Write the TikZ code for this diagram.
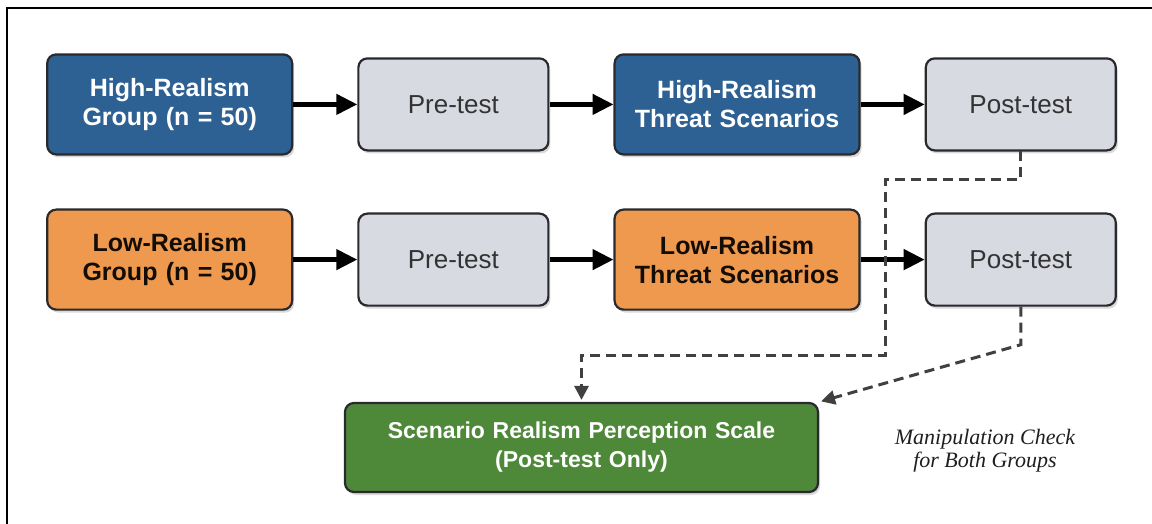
\documentclass[tikz,border=0pt]{standalone}
\usepackage{fontspec}
\setmainfont{Liberation Sans}
\newfontfamily\notefont{Liberation Serif}
\usetikzlibrary{matrix,arrows.meta,shadows}

\definecolor{hrblue}{RGB}{45,97,148}
\definecolor{lrorange}{RGB}{238,153,78}
\definecolor{testgray}{RGB}{216,218,226}
\definecolor{scalegreen}{RGB}{78,136,57}
\definecolor{boxline}{RGB}{42,42,46}

\tikzset{
  box/.style={draw=boxline, line width=2.2pt, rounded corners=9pt,
              align=center, inner sep=0pt, anchor=center,
              drop shadow={shadow xshift=2pt, shadow yshift=-3pt, opacity=0.3},
              font=\fontsize{25}{29}\selectfont\bfseries},
  widebox/.style={box, minimum width=245pt, minimum height=100pt, text width=235pt},
  testbox/.style={box, fill=testgray, text=black!80, minimum width=190pt,
                  minimum height=92pt, text width=180pt,
                  font=\fontsize{26}{30}\selectfont},
  flowarrow/.style={-{Triangle[length=21pt,width=20pt]}, line width=4.5pt},
  check/.style={-{Triangle[length=14pt,width=14pt]}, line width=3pt,
                draw=black!75, dash pattern=on 10pt off 6pt, shorten >=2pt},
}

\begin{document}
\begin{tikzpicture}[x=1pt, y=-1pt]
  \useasboundingbox (0,0) rectangle (1152,524);
  \draw[line width=2.6pt] (7,524) -- (7,8) -- (1152,8);

  % both groups, one row each
  \matrix (design) [matrix of nodes, ampersand replacement=\&,
          column sep=64pt, row sep=53pt, nodes={anchor=center}] at (581.5,182) {
    |[widebox, fill=hrblue, text=white, alias=hrgroup]| High-Realism\break Group (n = 50)
      \& |[testbox, alias=hrpre]| Pre-test
      \& |[widebox, fill=hrblue, text=white, alias=hrscen]| High-Realism\break Threat Scenarios
      \& |[testbox, alias=hrpost]| Post-test \\
    |[widebox, fill=lrorange, text=black!90!brown, alias=lrgroup]| Low-Realism\break Group (n = 50)
      \& |[testbox, alias=lrpre]| Pre-test
      \& |[widebox, fill=lrorange, text=black!90!brown, alias=lrscen]| Low-Realism\break Threat Scenarios
      \& |[testbox, alias=lrpost]| Post-test \\
  };

  \draw[flowarrow] (hrgroup) -- (hrpre);
  \draw[flowarrow] (hrpre) -- (hrscen);
  \draw[flowarrow] (hrscen) -- (hrpost);
  \draw[flowarrow] (lrgroup) -- (lrpre);
  \draw[flowarrow] (lrpre) -- (lrscen);
  \draw[flowarrow] (lrscen) -- (lrpost);

  \node[box, fill=scalegreen, text=white, minimum width=473pt, minimum height=89pt,
        text width=460pt, font=\fontsize{23}{29}\selectfont\bfseries]
        (perception) at (581.5,447.5)
        {Scenario Realism Perception Scale\break(Post-test Only)};

  \node[font=\notefont\itshape\fontsize{22}{23}\selectfont, text=black!88, align=center]
        (manip) at (985,451) {Manipulation Check\\for Both Groups};

  % post-test links down to the scale
  \coordinate (jog) at (885,180);
  \coordinate (drop) at (885,355);
  \draw[check] (hrpost.south) |- (jog) -- (drop) -| (perception.north);
  \draw[check] (lrpost.south) -- ++(0,38) -- (perception.north east);
\end{tikzpicture}
\end{document}
